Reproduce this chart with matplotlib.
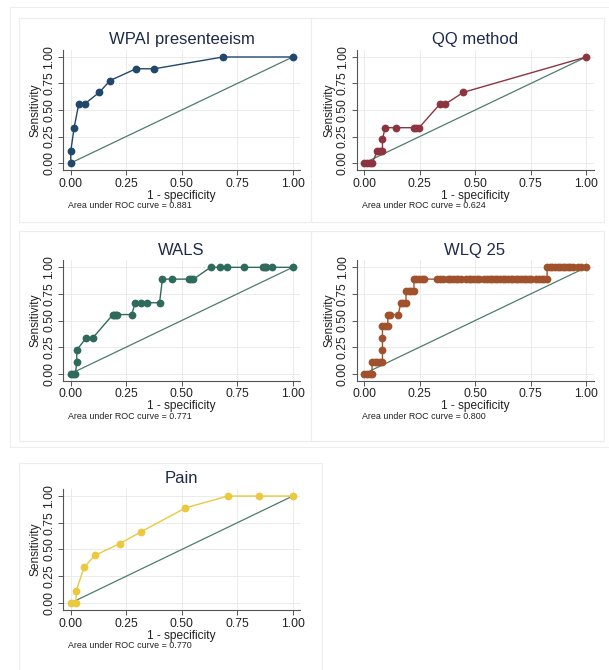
import matplotlib
matplotlib.use("Agg")
import matplotlib.pyplot as plt
from matplotlib.patches import Rectangle

plt.rcParams['font.family'] = ['Liberation Sans', 'DejaVu Sans']

W, H = 609, 670

# ROC points (1 - specificity, sensitivity)
wpai_x = [0, 0, 0.015, 0.036, 0.062, 0.129, 0.177, 0.294, 0.377, 0.685, 1.0]
wpai_y = [0, 0.111, 0.333, 0.556, 0.556, 0.667, 0.778, 0.889, 0.889, 1.0, 1.0]

qq_x = [0, 0.012, 0.024, 0.035, 0.059, 0.071, 0.082, 0.082, 0.094, 0.141,
        0.224, 0.235, 0.247, 0.341, 0.365, 0.447, 1.0]
qq_y = [0, 0, 0, 0, 0.111, 0.111, 0.111, 0.222, 0.333, 0.333,
        0.333, 0.333, 0.333, 0.556, 0.556, 0.667, 1.0]

wals_x = [0, 0.012, 0.021, 0.027, 0.027, 0.068, 0.098, 0.19, 0.197, 0.203,
          0.21, 0.275, 0.29, 0.315, 0.342, 0.4, 0.413, 0.455, 0.533, 0.542,
          0.553, 0.63, 0.673, 0.703, 0.782, 0.865, 0.874, 0.878, 0.905, 1.0]
wals_y = [0, 0, 0, 0.111, 0.222, 0.333, 0.333, 0.556, 0.556, 0.556,
          0.556, 0.556, 0.667, 0.667, 0.667, 0.667, 0.889, 0.889, 0.889, 0.889,
          0.889, 1.0, 1.0, 1.0, 1.0, 1.0, 1.0, 1.0, 1.0, 1.0]

wlq_x = [0, 0.012, 0.024, 0.035,
         0.035, 0.047, 0.059, 0.071, 0.082,
         0.082, 0.082,
         0.082, 0.094, 0.106,
         0.106, 0.118, 0.153,
         0.165, 0.176, 0.188,
         0.188, 0.2, 0.212, 0.224,
         0.224, 0.235, 0.247, 0.259, 0.271, 0.329, 0.341, 0.353, 0.376, 0.388,
         0.4, 0.412, 0.424, 0.435, 0.459, 0.471, 0.482, 0.494, 0.506, 0.518,
         0.541, 0.553, 0.565, 0.576, 0.588, 0.6, 0.612, 0.624, 0.635, 0.647,
         0.659, 0.671, 0.682, 0.694, 0.706, 0.718, 0.729, 0.741, 0.753, 0.776,
         0.788, 0.8, 0.812, 0.824,
         0.824, 0.835, 0.847, 0.859, 0.871, 0.882, 0.894, 0.906, 0.918, 0.929,
         0.941, 0.965, 0.976, 1.0]
wlq_y = [0, 0, 0, 0,
         0.111, 0.111, 0.111, 0.111, 0.111,
         0.222, 0.333,
         0.444, 0.444, 0.444,
         0.556, 0.556, 0.556,
         0.667, 0.667, 0.667,
         0.778, 0.778, 0.778, 0.778] + [0.889] * 44 + [1.0] * 14

pain_x = [0, 0.024, 0.024, 0.06, 0.108, 0.222, 0.318, 0.517, 0.707, 0.848, 1.0]
pain_y = [0, 0, 0.111, 0.333, 0.444, 0.556, 0.667, 0.889, 1.0, 1.0, 1.0]

titles = ['WPAI presenteeism', 'QQ method', 'WALS', 'WLQ 25', 'Pain']
aucs = ['0.881', '0.624', '0.771', '0.800', '0.770']
colors = ['#21476c', '#8e3440', '#2f6b5c', '#a0522d', '#ecc83e']
series = [(wpai_x, wpai_y), (qq_x, qq_y), (wals_x, wals_y), (wlq_x, wlq_y), (pain_x, pain_y)]

# axes boxes in pixels: left, top, right, bottom
boxes = [(63, 50, 300, 170), (356.5, 50, 593.5, 170),
         (63, 260.3, 300, 380.7), (356.5, 260.3, 593.5, 380.7),
         (63, 489, 300, 610)]

fig = plt.figure(figsize=(W / 100, H / 100), dpi=100)
fig.patch.set_facecolor('white')


def rect(x0, y0, x1, y1, col):
    fig.add_artist(Rectangle((x0 / W, 1 - y1 / H), (x1 - x0) / W, (y1 - y0) / H,
                             transform=fig.transFigure, fill=False,
                             edgecolor=col, linewidth=0.8))


# light frames around the panels
rect(10, 7, 612, 447, '#eeeeee')
rect(19, 18, 311, 222, '#ececec')
rect(311, 18, 604, 222, '#ececec')
rect(19, 231, 311, 441, '#ececec')
rect(311, 231, 604, 441, '#ececec')
rect(19, 463, 322, 672, '#ececec')

ticks = [0, 0.25, 0.5, 0.75, 1.0]
ticklabels = ['0.00', '0.25', '0.50', '0.75', '1.00']

for (x0, y0, x1, y1), t, a, c, (xs, ys) in zip(boxes, titles, aucs, colors, series):
    ax = fig.add_axes([x0 / W, 1 - y1 / H, (x1 - x0) / W, (y1 - y0) / H])
    ax.set_xlim(-0.035, 1.033)
    ax.set_ylim(-0.066, 1.066)
    ax.grid(True, color='#ebebeb', linewidth=0.7)
    ax.set_axisbelow(True)
    ax.plot([0, 1], [0, 1], color='#4b7d6c', linewidth=0.9, zorder=2)
    ax.plot(xs, ys, color=c, linewidth=1.0, marker='o', markersize=5.6,
            markeredgewidth=0, zorder=3)
    for s in ['top', 'right']:
        ax.spines[s].set_visible(False)
    for s in ['left', 'bottom']:
        ax.spines[s].set_color('#555555')
        ax.spines[s].set_linewidth(0.8)
    ax.set_xticks(ticks)
    ax.set_xticklabels(ticklabels)
    ax.set_yticks(ticks)
    ax.set_yticklabels(ticklabels, rotation=90, va='center')
    ax.tick_params(labelsize=8.8, colors='#555555', labelcolor='#222222',
                   length=3.5, width=0.7, pad=2)
    ax.set_xlabel('1 - specificity', fontsize=8.6, color='#222222', labelpad=0)
    ax.set_ylabel('Sensitivity', fontsize=8.6, color='#222222', labelpad=1)
    ax.set_title(t, fontsize=12, color='#1e2a4a', pad=4)
    fig.text((x0 + 5) / W, 1 - (y1 + 36) / H, 'Area under ROC curve = ' + a,
             fontsize=6.4, color='#222222', va='center', ha='left')

fig.savefig('out.png', dpi=100, facecolor='white')
